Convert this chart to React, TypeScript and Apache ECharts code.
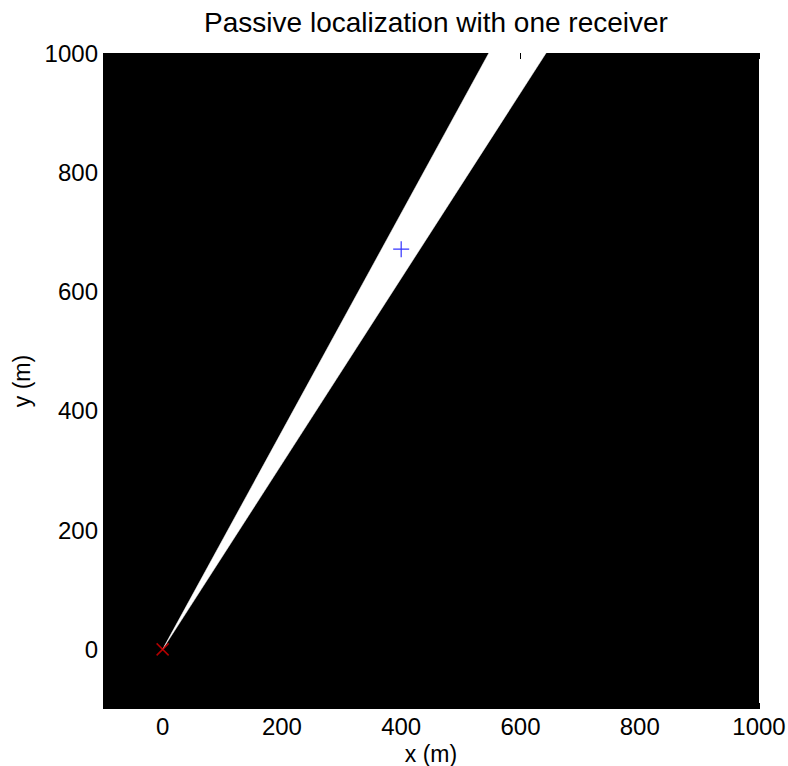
import React, { useEffect, useRef } from "react";
import * as echarts from "echarts";

// Data
const wedgeX: number[] = [0, 547, 643];
const wedgeY: number[] = [0, 1000, 1000];
const targetPoint: number[] = [400, 671];
const receiverPoint: number[] = [0, 0];
const tickValues: number[] = [0, 200, 400, 600, 800, 1000];
const axisMin = -100;
const axisMax = 1000;
const titleText = "Passive localization with one receiver";
const xName = "x (m)";
const yName = "y (m)";

const FONT = "'Liberation Sans', Arial, Helvetica, sans-serif";

export default function App() {
  const ref = useRef<HTMLDivElement>(null);
  useEffect(() => {
    document.body.style.margin = "0";
    if (!ref.current) return;
    const chart = echarts.init(ref.current, undefined, { renderer: "svg" });
    const wedgeData = wedgeX.map((x, i) => [x, wedgeY[i]]);
    const commonAxis = {
      min: axisMin,
      max: axisMax,
      splitLine: { show: false },
      axisLine: { show: false, onZero: false },
      z: 5,
    };
    const tick = {
      show: true,
      inside: true,
      length: 6,
      customValues: tickValues,
      lineStyle: { color: "#000" },
    };
    const fmt = (v: number) => String(v);
    chart.setOption({
      animation: false,
      backgroundColor: "#fff",
      title: {
        text: titleText,
        left: 431,
        textAlign: "center",
        top: 3,
        textStyle: { fontFamily: FONT, fontSize: 28, fontWeight: "normal", color: "#000" },
      },
      grid: {
        left: 103,
        right: 29,
        top: 53,
        bottom: 57,
        show: true,
        backgroundColor: "#000",
        borderWidth: 0,
        containLabel: false,
        outerBoundsMode: "none",
      },
      xAxis: [
        {
          type: "value",
          ...commonAxis,
          position: "bottom",
          name: xName,
          nameLocation: "middle",
          nameGap: 26,
          nameTextStyle: { fontFamily: FONT, fontSize: 23, lineHeight: 22, color: "#000" },
          axisTick: tick,
          axisLabel: { customValues: tickValues, formatter: fmt, fontFamily: FONT, fontSize: 24, color: "#000", margin: 5 },
        },
        {
          type: "value",
          ...commonAxis,
          position: "top",
          axisTick: tick,
          axisLabel: { show: false },
        },
      ],
      yAxis: [
        {
          type: "value",
          ...commonAxis,
          position: "left",
          name: yName,
          nameLocation: "middle",
          nameGap: 60,
          nameRotate: 90,
          nameTextStyle: { fontFamily: FONT, fontSize: 23, color: "#000" },
          axisTick: tick,
          axisLabel: { customValues: tickValues, formatter: fmt, fontFamily: FONT, fontSize: 24, color: "#000", margin: 5 },
        },
        {
          type: "value",
          ...commonAxis,
          position: "right",
          axisTick: tick,
          axisLabel: { show: false },
        },
      ],
      series: [
        {
          type: "custom",
          xAxisIndex: 0,
          yAxisIndex: 0,
          data: [0],
          renderItem: (params: any, api: any) => {
            const pts = wedgeData.map((p) => api.coord(p));
            return {
              type: "polygon",
              shape: { points: pts },
              style: { fill: "#fff", stroke: "#fff", lineWidth: 0.5 },
            };
          },
          silent: true,
          z: 1,
        },
        {
          type: "scatter",
          data: [receiverPoint],
          symbol: "path://M0,0L10,10M10,0L0,10",
          symbolSize: 12,
          itemStyle: { color: "none", borderColor: "#e00000", borderWidth: 1.5 },
          z: 6,
        },
        {
          type: "scatter",
          data: [targetPoint],
          symbol: "path://M5,0L5,10M0,5L10,5",
          symbolSize: 16,
          itemStyle: { color: "none", borderColor: "#0000ff", borderWidth: 1.2 },
          z: 6,
        },
      ],
    });
    return () => chart.dispose();
  }, []);
  return <div ref={ref} style={{ width: 788, height: 766 }} />;
}
